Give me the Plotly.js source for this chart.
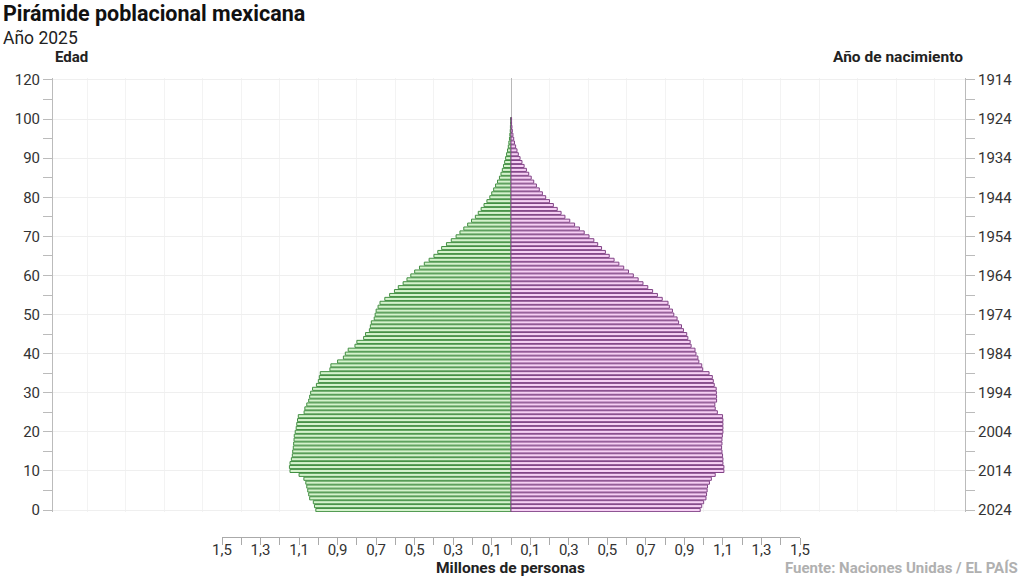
<!DOCTYPE html>
<html>
<head>
<meta charset="utf-8">
<script src="https://cdn.plot.ly/plotly-3.0.1.min.js"></script>
<style>html,body{margin:0;padding:0;background:#fff;}#chart{width:1024px;height:576px;}</style>
</head>
<body>
<div id="chart"></div>
<script>
// Ages 0..100
const ages = Array.from({length: 101}, (_, i) => i);

// Hombres (millones), edad 0..100
const hombres = [
  1.013, 1.020, 1.026, 1.045, 1.050, 1.055, 1.060, 1.065, 1.075, 1.100,
  1.147, 1.150, 1.147, 1.140, 1.135, 1.133, 1.130, 1.128, 1.126, 1.125,
  1.120, 1.115, 1.112, 1.108, 1.104, 1.074, 1.070, 1.060, 1.050, 1.045,
  1.040, 1.030, 1.010, 1.000, 0.995, 0.990, 0.940, 0.935, 0.900, 0.870,
  0.860, 0.845, 0.810, 0.800, 0.765, 0.755, 0.735, 0.730, 0.725, 0.710,
  0.705, 0.700, 0.690, 0.680, 0.655, 0.630, 0.605, 0.585, 0.560, 0.540,
  0.520, 0.500, 0.475, 0.450, 0.425, 0.400, 0.380, 0.360, 0.335, 0.310,
  0.285, 0.265, 0.245, 0.225, 0.205, 0.185, 0.170, 0.155, 0.140, 0.125,
  0.110, 0.100, 0.090, 0.080, 0.070, 0.060, 0.052, 0.045, 0.039, 0.033,
  0.028, 0.023, 0.018, 0.014, 0.011, 0.008, 0.006, 0.004, 0.003, 0.002,
  0.002
];

// Mujeres (millones), edad 0..100
const mujeres = [
  0.982, 0.990, 1.000, 1.012, 1.015, 1.018, 1.020, 1.030, 1.040, 1.060,
  1.105, 1.105, 1.100, 1.100, 1.098, 1.095, 1.093, 1.095, 1.095, 1.097,
  1.100, 1.100, 1.100, 1.100, 1.098, 1.071, 1.060, 1.058, 1.067, 1.067,
  1.066, 1.065, 1.055, 1.050, 1.045, 1.028, 0.995, 0.990, 0.975, 0.970,
  0.960, 0.955, 0.935, 0.930, 0.918, 0.912, 0.895, 0.885, 0.870, 0.862,
  0.845, 0.838, 0.822, 0.815, 0.785, 0.760, 0.735, 0.710, 0.685, 0.660,
  0.635, 0.610, 0.585, 0.560, 0.535, 0.510, 0.490, 0.470, 0.450, 0.430,
  0.405, 0.380, 0.355, 0.330, 0.305, 0.280, 0.260, 0.240, 0.220, 0.200,
  0.180, 0.163, 0.147, 0.132, 0.118, 0.105, 0.092, 0.080, 0.068, 0.057,
  0.047, 0.038, 0.031, 0.024, 0.018, 0.014, 0.010, 0.007, 0.005, 0.003,
  0.003
];

// Left axis tick labels (edad) and right axis (año de nacimiento)
const edadTickVals = [0, 10, 20, 30, 40, 50, 60, 70, 80, 90, 100, 110];
const edadTickText = ["0", "10", "20", "30", "40", "50", "60", "70", "80", "90", "100", "120"];
const nacimientoTickText = ["2024", "2014", "2004", "1994", "1984", "1974", "1964", "1954", "1944", "1934", "1924", "1914"];
const edadMinor = [5, 15, 25, 35, 45, 55, 65, 75, 85, 95, 105];

// X axis labels (millones de personas)
const xTickVals = [-1.5, -1.3, -1.1, -0.9, -0.7, -0.5, -0.3, -0.1, 0.1, 0.3, 0.5, 0.7, 0.9, 1.1, 1.3, 1.5];
const xTickText = ["1,5", "1,3", "1,1", "0,9", "0,7", "0,5", "0,3", "0,1", "0,1", "0,3", "0,5", "0,7", "0,9", "1,1", "1,3", "1,5"];
const xMinor = [-1.4, -1.2, -1.0, -0.8, -0.6, -0.4, -0.2, 0, 0.2, 0.4, 0.6, 0.8, 1.0, 1.2, 1.4];

const FONT = "Roboto, 'Liberation Sans', sans-serif";

// geometry helpers (plot area: x 53..965, y 78..537)
const L = 53, R = 965, T = 78, B = 537;
const W = R - L, H = B - T;
const px = v => (v - L) / W;
const py = v => (B - v) / H;
const pxPerUnit = (800 - 222) / 3.0;

const traces = [
  {
    type: 'bar', orientation: 'h', name: 'Hombres',
    y: ages, x: hombres.map(v => -v),
    xaxis: 'x', yaxis: 'y',
    marker: {color: '#d5f2cd', line: {color: '#428f42', width: 1}},
    hoverinfo: 'skip'
  },
  {
    type: 'bar', orientation: 'h', name: 'Mujeres',
    y: ages, x: mujeres,
    xaxis: 'x', yaxis: 'y',
    marker: {color: '#f6d0f4', line: {color: '#814386', width: 1}},
    hoverinfo: 'skip'
  },
  // empty helper trace so that the secondary axes (scale + birth years) get drawn
  {type: 'scatter', mode: 'markers', x: [], y: [], xaxis: 'x2', yaxis: 'y2', hoverinfo: 'skip'}
];

const layout = {
  width: 1024, height: 576,
  paper_bgcolor: '#fff', plot_bgcolor: 'rgba(0,0,0,0)',
  margin: {l: L, r: 1024 - R, t: T, b: 576 - B, pad: 0},
  showlegend: false,
  barmode: 'relative',
  bargap: 0.2,
  font: {family: FONT, color: '#333', size: 15},
  xaxis: {
    domain: [0, 1],
    range: [(L - 511) / pxPerUnit, (R - 511) / pxPerUnit],
    showticklabels: false, ticks: '',
    showline: false,
    showgrid: true, gridcolor: '#f3f3f3', gridwidth: 1,
    tickmode: 'linear', tick0: 0, dtick: 0.2,
    zeroline: true, zerolinecolor: '#b8b8b8', zerolinewidth: 1,
    fixedrange: true
  },
  xaxis2: {
    domain: [px(222), px(800)],
    range: [-1.5, 1.5],
    anchor: 'free', position: 0, side: 'bottom',
    showline: true, linecolor: '#aaa', linewidth: 1,
    ticks: 'outside', ticklen: 7, tickcolor: '#aaa', tickwidth: 1,
    tickmode: 'array', tickvals: xTickVals, ticktext: xTickText,
    ticklabelstandoff: -8,
    minor: {tickmode: 'array', tickvals: xMinor, ticks: 'outside', ticklen: 7, tickcolor: '#aaa', showgrid: false},
    tickfont: {size: 15, color: '#333', family: FONT},
    showgrid: false, zeroline: false, fixedrange: true
  },
  yaxis: {
    domain: [py(512), 1],
    range: [-0.5, 110.5],
    anchor: 'x', side: 'left',
    showline: true, linecolor: '#bbb', linewidth: 1,
    ticks: 'outside', ticklen: 9, tickcolor: '#bbb', tickwidth: 1,
    tickmode: 'array', tickvals: edadTickVals, ticktext: edadTickText,
    minor: {tickmode: 'array', tickvals: edadMinor, ticks: 'outside', ticklen: 9, tickcolor: '#bbb', showgrid: false},
    tickfont: {size: 15, color: '#333', family: FONT},
    showgrid: true, gridcolor: '#efefef', gridwidth: 1,
    zeroline: false, fixedrange: true
  },
  yaxis2: {
    overlaying: 'y', anchor: 'free', position: 1, side: 'right',
    range: [-0.5, 110.5],
    showline: true, linecolor: '#bbb', linewidth: 1,
    ticks: 'outside', ticklen: 9, tickcolor: '#bbb', tickwidth: 1,
    tickmode: 'array', tickvals: edadTickVals, ticktext: nacimientoTickText,
    minor: {tickmode: 'array', tickvals: edadMinor, ticks: 'outside', ticklen: 9, tickcolor: '#bbb', showgrid: false},
    tickfont: {size: 15, color: '#333', family: FONT},
    showgrid: false, zeroline: false, fixedrange: true
  },
  annotations: [
    {text: '<b>Pirámide poblacional mexicana</b>', xref: 'paper', yref: 'paper', x: px(1), y: py(14),
     xanchor: 'left', yanchor: 'middle', showarrow: false, font: {size: 21.5, color: '#111', family: FONT}},
    {text: 'Año 2025', xref: 'paper', yref: 'paper', x: px(1), y: py(38),
     xanchor: 'left', yanchor: 'middle', showarrow: false, font: {size: 17.5, color: '#222', family: FONT}},
    {text: '<b>Edad</b>', xref: 'paper', yref: 'paper', x: px(53), y: py(57),
     xanchor: 'left', yanchor: 'middle', showarrow: false, font: {size: 15, color: '#222', family: FONT}},
    {text: '<b>Año de nacimiento</b>', xref: 'paper', yref: 'paper', x: px(965), y: py(57),
     xanchor: 'right', yanchor: 'middle', showarrow: false, font: {size: 15.5, color: '#222', family: FONT}},
    {text: '<b>Millones de personas</b>', xref: 'paper', yref: 'paper', x: px(511), y: py(568),
     xanchor: 'center', yanchor: 'middle', showarrow: false, font: {size: 15.5, color: '#222', family: FONT}},
    {text: '<b>Fuente: Naciones Unidas / EL PAÍS</b>', xref: 'paper', yref: 'paper', x: px(1020), y: py(568),
     xanchor: 'right', yanchor: 'middle', showarrow: false, font: {size: 15, color: '#b0b0b0', family: FONT}}
  ]
};

Plotly.newPlot('chart', traces, layout, {staticPlot: true, displayModeBar: false});
</script>
</body>
</html>
